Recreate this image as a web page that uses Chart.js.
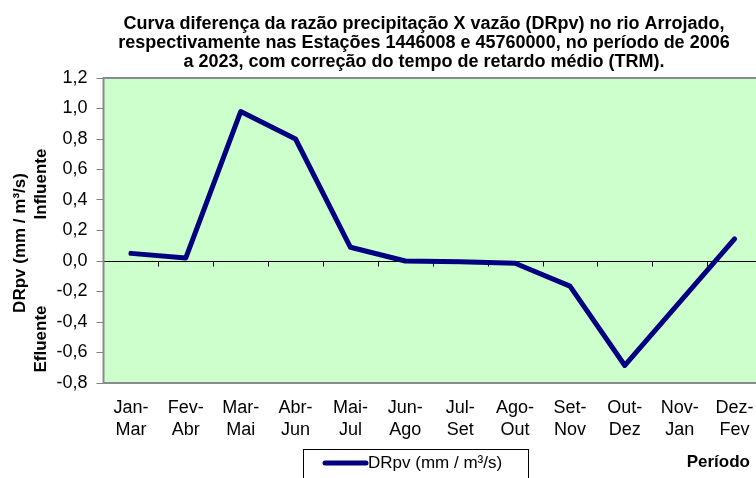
<!DOCTYPE html>
<html lang="pt-BR">
<head>
<meta charset="utf-8">
<title>DRpv - rio Arrojado</title>
<script src="https://cdn.jsdelivr.net/npm/chart.js@4.4.1/dist/chart.umd.min.js"></script>
<style>
  html, body { margin: 0; padding: 0; background: #fff; overflow: hidden; }
  #quadro { width: 756px; height: 478px; overflow: hidden; }
  #grafico { display: block; }
</style>
</head>
<body>
<div id="quadro"><canvas id="grafico" width="762" height="490"></canvas></div>
<script>
// dados
const periodos = [
    ["Jan-", "Mar"], ["Fev-", "Abr"], ["Mar-", "Mai"], ["Abr-", "Jun"],
    ["Mai-", "Jul"], ["Jun-", "Ago"], ["Jul-", "Set"], ["Ago-", "Out"],
    ["Set-", "Nov"], ["Out-", "Dez"], ["Nov-", "Jan"], ["Dez-", "Fev"]
];
const drpv = [0.05, 0.02, 0.98, 0.80, 0.09, 0.00, -0.005, -0.015, -0.165, -0.685, -0.27, 0.145];
const limitesY = [-0.8, 1.2];
const passoY = 0.2;

// textos
const tituloLinhas = [
    "Curva diferença da razão precipitação X vazão (DRpv) no rio Arrojado,",
    "respectivamente nas Estações 1446008 e 45760000, no período de 2006",
    "a 2023, com correção do tempo de retardo médio (TRM)."
];
const rotuloY = "DRpv (mm / m³/s)";
const rotuloInfluente = "Influente";
const rotuloEfluente = "Efluente";
const rotuloX = "Período";
const legendaSerie = "DRpv (mm / m³/s)";

const fonte = "'Liberation Sans', Arial, sans-serif";
const corLinha = "#000080";

// fundo verde, moldura, marcas do eixo x e textos avulsos
const moldura = {
    id: "moldura",
    beforeDraw(chart) {
        const { ctx, chartArea: a } = chart;
        ctx.save();
        ctx.fillStyle = "#ccffcc";
        ctx.fillRect(a.left, a.top, a.right - a.left, a.bottom - a.top);
        ctx.restore();
    },
    beforeDatasetsDraw(chart) {
        const { ctx, chartArea: a, scales: { x, y } } = chart;
        ctx.save();
        ctx.strokeStyle = "#8a8a8a";
        ctx.lineWidth = 2;
        ctx.strokeRect(a.left, a.top, a.right - a.left, a.bottom - a.top);

        // marcas entre categorias sobre a linha do zero
        const y0 = Math.round(y.getPixelForValue(0)) + 0.5;
        ctx.strokeStyle = "#000";
        ctx.lineWidth = 1;
        ctx.beginPath();
        for (let i = 1; i < periodos.length; i++) {
            const px = Math.round(x.getPixelForValue(i - 0.5)) + 0.5;
            ctx.moveTo(px, y0);
            ctx.lineTo(px, y0 + 5);
        }
        ctx.stroke();
        ctx.restore();
    },
    afterDraw(chart) {
        const { ctx } = chart;
        ctx.save();
        ctx.fillStyle = "#000";

        // título
        ctx.font = `bold 18px ${fonte}`;
        ctx.textAlign = "center";
        ctx.textBaseline = "alphabetic";
        [29, 48, 67].forEach((by, i) => ctx.fillText(tituloLinhas[i], 424, by));

        // título do eixo x
        ctx.font = `bold 17px ${fonte}`;
        ctx.textAlign = "right";
        ctx.fillText(rotuloX, 750, 467);

        // títulos do eixo y (girados)
        const girado = (texto, bx, cy) => {
            ctx.save();
            ctx.translate(bx, cy);
            ctx.rotate(-Math.PI / 2);
            ctx.textAlign = "center";
            ctx.fillText(texto, 0, 0);
            ctx.restore();
        };
        girado(rotuloY, 25, 243);
        girado(rotuloInfluente, 46, 184);
        girado(rotuloEfluente, 46, 339);

        // legenda
        ctx.strokeStyle = "#000";
        ctx.lineWidth = 1;
        ctx.strokeRect(303.5, 449.5, 225, 40);
        ctx.strokeStyle = corLinha;
        ctx.lineWidth = 5;
        ctx.lineCap = "round";
        ctx.beginPath();
        ctx.moveTo(325, 463);
        ctx.lineTo(366, 463);
        ctx.stroke();
        ctx.font = `17px ${fonte}`;
        ctx.textAlign = "left";
        ctx.fillText(legendaSerie, 368, 468);
        ctx.restore();
    }
};

const grafico = new Chart(document.getElementById("grafico"), {
    type: "line",
    data: {
        labels: periodos,
        datasets: [{
            label: legendaSerie,
            data: drpv,
            borderColor: corLinha,
            backgroundColor: corLinha,
            borderWidth: 5,
            pointRadius: 0,
            tension: 0,
            borderJoinStyle: "round",
            borderCapStyle: "round",
        }]
    },
    plugins: [moldura],
    options: {
        responsive: false,
        animation: false,
        devicePixelRatio: 1,
        layout: { padding: { top: 78, left: 0, right: 0, bottom: 0 } },
        plugins: {
            legend: { display: false },
            title: { display: false },
            tooltip: { enabled: false },
        },
        scales: {
            x: {
                offset: true,
                grid: { display: false },
                border: { display: false },
                ticks: {
                    color: "#000",
                    font: { family: fonte, size: 18, lineHeight: 22 / 18 },
                    padding: 6,
                    maxRotation: 0,
                    autoSkip: false,
                },
                afterFit: (s) => { s.height = 107; },
            },
            y: {
                min: limitesY[0],
                max: limitesY[1],
                ticks: {
                    stepSize: passoY,
                    color: "#000",
                    font: { family: fonte, size: 18 },
                    padding: 9,
                    callback: (v) => (Math.abs(v) < 1e-9 ? 0 : v).toFixed(1).replace(".", ","),
                },
                grid: {
                    color: (c) => (Math.abs(c.tick.value) < 1e-9 ? "#000" : "rgba(0,0,0,0)"),
                    tickColor: "#808080",
                    tickLength: 7,
                    lineWidth: 1,
                },
                border: { display: false },
                afterFit: (s) => { s.width = 103.5; },
            },
        },
    },
});
</script>
</body>
</html>
